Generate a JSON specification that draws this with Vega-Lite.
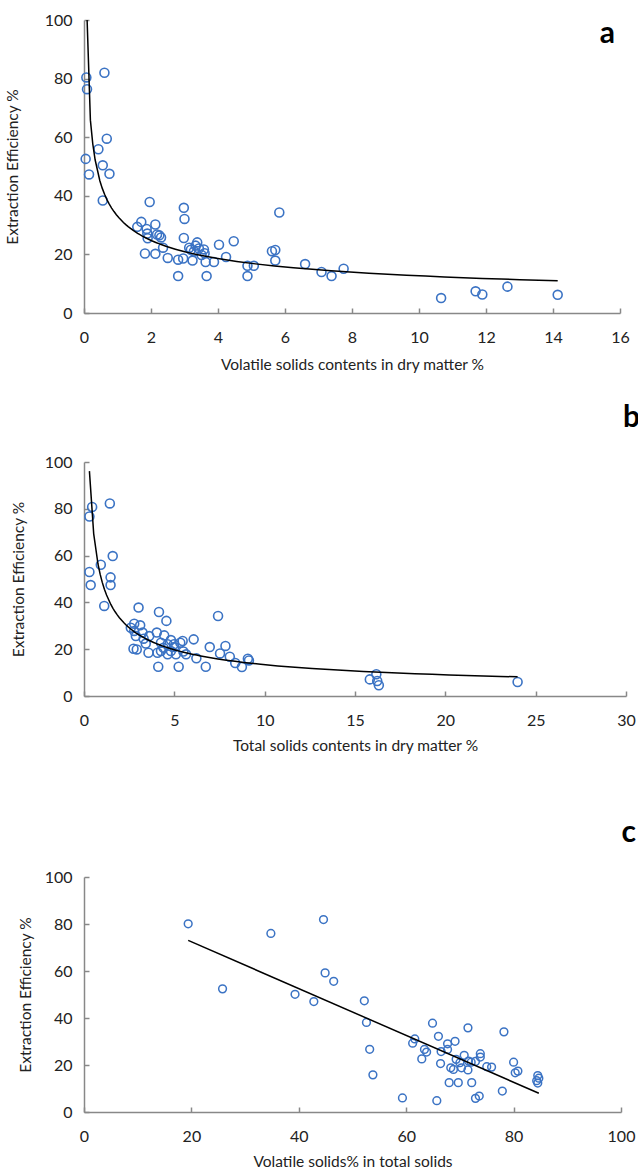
{
  "$schema": "https://vega.github.io/schema/vega-lite/v6.json",
  "padding": {"top": 12, "left": 5, "right": 0, "bottom": 0},
  "background": "white",
  "spacing": 30,
  "config": {
    "view": {"stroke": null},
    "font": "Lato",
    "axis": {
      "grid": false,
      "domainColor": "#888888",
      "domainWidth": 1.5,
      "tickColor": "#888888",
      "tickWidth": 1.5,
      "tickSize": -5,
      "labelFont": "Lato",
      "labelFontSize": 16,
      "labelColor": "#222222",
      "labelPadding": 17,
      "labelFlush": false,
      "titleFont": "Lato",
      "titleFontSize": 15.5,
      "titleFontWeight": "normal",
      "titleColor": "#222222"
    },
    "axisX": {"labelPadding": 21},
    "title": {"font": "Lato", "fontSize": 30, "fontWeight": "bold", "color": "#000000", "anchor": "end", "frame": "group"}
  },
  "vconcat": [
    {
      "width": 536,
      "height": 293,
      "title": {"text": "a", "offset": -37, "dx": -5},
      "data": {"values": [
        {"vs": 0.07, "ee": 80.4}, {"vs": 0.09, "ee": 76.4}, {"vs": 0.61, "ee": 82.0}, {"vs": 0.68, "ee": 59.5},
        {"vs": 0.43, "ee": 55.9}, {"vs": 0.05, "ee": 52.6}, {"vs": 0.56, "ee": 50.4}, {"vs": 0.15, "ee": 47.3},
        {"vs": 0.76, "ee": 47.5}, {"vs": 0.56, "ee": 38.4}, {"vs": 1.96, "ee": 37.9}, {"vs": 2.98, "ee": 35.9},
        {"vs": 3.0, "ee": 32.1}, {"vs": 5.83, "ee": 34.3}, {"vs": 1.71, "ee": 31.1}, {"vs": 1.59, "ee": 29.4},
        {"vs": 2.13, "ee": 30.2}, {"vs": 1.87, "ee": 28.7}, {"vs": 1.89, "ee": 27.1}, {"vs": 2.18, "ee": 26.8},
        {"vs": 2.25, "ee": 26.5}, {"vs": 2.3, "ee": 25.8}, {"vs": 1.9, "ee": 25.5}, {"vs": 2.98, "ee": 25.6},
        {"vs": 2.36, "ee": 22.3}, {"vs": 4.47, "ee": 24.5}, {"vs": 4.03, "ee": 23.3}, {"vs": 3.38, "ee": 24.1},
        {"vs": 3.33, "ee": 23.0}, {"vs": 3.14, "ee": 22.3}, {"vs": 3.19, "ee": 21.6}, {"vs": 3.43, "ee": 22.0},
        {"vs": 3.58, "ee": 21.7}, {"vs": 3.6, "ee": 20.4}, {"vs": 3.51, "ee": 19.8}, {"vs": 3.28, "ee": 21.0},
        {"vs": 1.82, "ee": 20.3}, {"vs": 2.13, "ee": 20.2}, {"vs": 2.5, "ee": 18.8}, {"vs": 2.81, "ee": 18.2},
        {"vs": 2.96, "ee": 18.6}, {"vs": 3.24, "ee": 17.9}, {"vs": 3.63, "ee": 17.4}, {"vs": 3.88, "ee": 17.4},
        {"vs": 4.24, "ee": 19.1}, {"vs": 2.81, "ee": 12.6}, {"vs": 3.66, "ee": 12.6}, {"vs": 4.88, "ee": 16.1},
        {"vs": 5.07, "ee": 16.1}, {"vs": 4.88, "ee": 12.6}, {"vs": 5.61, "ee": 21.1}, {"vs": 5.71, "ee": 21.5},
        {"vs": 5.71, "ee": 17.9}, {"vs": 6.6, "ee": 16.7}, {"vs": 7.09, "ee": 14.0}, {"vs": 7.39, "ee": 12.6},
        {"vs": 7.75, "ee": 15.1}, {"vs": 10.66, "ee": 5.1}, {"vs": 11.69, "ee": 7.4}, {"vs": 11.89, "ee": 6.3},
        {"vs": 12.64, "ee": 9.0}, {"vs": 14.14, "ee": 6.2}
      ]},
      "layer": [
        {
          "mark": {"type": "point", "shape": "circle", "filled": false, "color": "#3B73C4", "strokeWidth": 1.6, "size": 80, "opacity": 1},
          "encoding": {
            "x": {"field": "vs", "type": "quantitative", "scale": {"domain": [0, 16], "nice": false},
                  "axis": {"values": [0, 2, 4, 6, 8, 10, 12, 14, 16], "title": "Volatile solids contents in dry matter %", "titlePadding": 12}},
            "y": {"field": "ee", "type": "quantitative", "scale": {"domain": [0, 100], "nice": false},
                  "axis": {"values": [0, 20, 40, 60, 80, 100], "title": "Extraction Efficiency %", "titlePadding": 24}}
          }
        },
        {
          "transform": [{"regression": "ee", "on": "vs", "method": "pow"}],
          "mark": {"type": "line", "color": "#000000", "strokeWidth": 1.5, "clip": true},
          "encoding": {
            "x": {"field": "vs", "type": "quantitative"},
            "y": {"field": "ee", "type": "quantitative"}
          }
        }
      ]
    },
    {
      "width": 542,
      "height": 234,
      "title": {"text": "b", "offset": 21, "dx": 14},
      "data": {"values": [
        {"ts": 0.45, "ee": 80.8}, {"ts": 0.3, "ee": 76.7}, {"ts": 1.43, "ee": 82.3}, {"ts": 1.59, "ee": 59.8},
        {"ts": 0.93, "ee": 56.1}, {"ts": 0.3, "ee": 53.0}, {"ts": 1.47, "ee": 50.7}, {"ts": 0.37, "ee": 47.4},
        {"ts": 1.47, "ee": 47.4}, {"ts": 1.12, "ee": 38.5}, {"ts": 3.02, "ee": 37.8}, {"ts": 4.15, "ee": 35.9},
        {"ts": 4.56, "ee": 32.1}, {"ts": 7.42, "ee": 34.2}, {"ts": 2.78, "ee": 30.9}, {"ts": 2.59, "ee": 29.2},
        {"ts": 3.11, "ee": 30.2}, {"ts": 2.78, "ee": 27.8}, {"ts": 2.87, "ee": 25.6}, {"ts": 3.24, "ee": 27.1},
        {"ts": 3.61, "ee": 25.6}, {"ts": 4.03, "ee": 27.1}, {"ts": 4.44, "ee": 25.9}, {"ts": 4.81, "ee": 23.9},
        {"ts": 6.07, "ee": 24.2}, {"ts": 5.46, "ee": 23.5}, {"ts": 5.33, "ee": 22.8}, {"ts": 4.98, "ee": 22.1},
        {"ts": 4.63, "ee": 22.1}, {"ts": 4.26, "ee": 22.8}, {"ts": 3.42, "ee": 22.4}, {"ts": 2.74, "ee": 20.2},
        {"ts": 2.92, "ee": 19.9}, {"ts": 6.96, "ee": 20.9}, {"ts": 7.83, "ee": 21.4}, {"ts": 3.57, "ee": 18.5},
        {"ts": 4.07, "ee": 18.5}, {"ts": 4.26, "ee": 19.2}, {"ts": 4.63, "ee": 17.8}, {"ts": 4.81, "ee": 19.2},
        {"ts": 5.09, "ee": 17.8}, {"ts": 5.65, "ee": 17.8}, {"ts": 5.5, "ee": 19.0}, {"ts": 6.22, "ee": 16.1},
        {"ts": 7.53, "ee": 18.2}, {"ts": 8.07, "ee": 16.8}, {"ts": 8.37, "ee": 14.1}, {"ts": 9.07, "ee": 15.9},
        {"ts": 9.13, "ee": 15.2}, {"ts": 8.74, "ee": 12.4}, {"ts": 4.11, "ee": 12.5}, {"ts": 5.24, "ee": 12.5},
        {"ts": 6.74, "ee": 12.5}, {"ts": 4.4, "ee": 20.6}, {"ts": 5.0, "ee": 20.9}, {"ts": 3.3, "ee": 24.5},
        {"ts": 15.82, "ee": 7.1}, {"ts": 16.18, "ee": 9.3}, {"ts": 16.23, "ee": 6.4}, {"ts": 16.32, "ee": 4.6},
        {"ts": 24.0, "ee": 6.0}
      ]},
      "layer": [
        {
          "mark": {"type": "point", "shape": "circle", "filled": false, "color": "#3B73C4", "strokeWidth": 1.6, "size": 80, "opacity": 1},
          "encoding": {
            "x": {"field": "ts", "type": "quantitative", "scale": {"domain": [0, 30], "nice": false},
                  "axis": {"values": [0, 5, 10, 15, 20, 25, 30], "title": ["Total solids contents in dry matter %", "\u00a0"], "titleLineHeight": 34, "titlePadding": 10}},
            "y": {"field": "ee", "type": "quantitative", "scale": {"domain": [0, 100], "nice": false},
                  "axis": {"values": [0, 20, 40, 60, 80, 100], "title": "Extraction Efficiency %", "titlePadding": 18}}
          }
        },
        {
          "transform": [{"regression": "ee", "on": "ts", "method": "pow"}],
          "mark": {"type": "line", "color": "#000000", "strokeWidth": 1.5, "clip": true},
          "encoding": {
            "x": {"field": "ts", "type": "quantitative"},
            "y": {"field": "ee", "type": "quantitative"}
          }
        }
      ]
    },
    {
      "width": 537,
      "height": 235,
      "title": {"text": "c", "offset": 21, "dx": 15},
      "data": {"values": [
        {"vsts": 19.4, "ee": 80.1}, {"vsts": 34.8, "ee": 76.0}, {"vsts": 44.6, "ee": 81.9}, {"vsts": 25.8, "ee": 52.4},
        {"vsts": 44.9, "ee": 59.2}, {"vsts": 46.5, "ee": 55.6}, {"vsts": 39.3, "ee": 50.1}, {"vsts": 42.8, "ee": 47.0},
        {"vsts": 52.2, "ee": 47.3}, {"vsts": 52.6, "ee": 38.1}, {"vsts": 53.2, "ee": 26.7}, {"vsts": 53.8, "ee": 15.8},
        {"vsts": 59.3, "ee": 6.0}, {"vsts": 65.7, "ee": 4.8}, {"vsts": 64.9, "ee": 37.8}, {"vsts": 71.5, "ee": 35.8},
        {"vsts": 78.2, "ee": 34.1}, {"vsts": 66.0, "ee": 32.2}, {"vsts": 61.6, "ee": 31.1}, {"vsts": 61.2, "ee": 29.3},
        {"vsts": 69.1, "ee": 30.1}, {"vsts": 67.7, "ee": 29.0}, {"vsts": 67.7, "ee": 26.6}, {"vsts": 63.4, "ee": 26.6},
        {"vsts": 63.8, "ee": 25.5}, {"vsts": 66.5, "ee": 25.7}, {"vsts": 62.9, "ee": 22.6}, {"vsts": 70.8, "ee": 24.1},
        {"vsts": 73.8, "ee": 24.8}, {"vsts": 73.8, "ee": 23.4}, {"vsts": 69.3, "ee": 22.4}, {"vsts": 71.6, "ee": 21.7},
        {"vsts": 72.1, "ee": 21.2}, {"vsts": 72.9, "ee": 21.5}, {"vsts": 70.0, "ee": 21.0}, {"vsts": 66.4, "ee": 20.6},
        {"vsts": 68.3, "ee": 18.8}, {"vsts": 68.8, "ee": 18.1}, {"vsts": 70.3, "ee": 18.8}, {"vsts": 71.5, "ee": 17.9},
        {"vsts": 75.0, "ee": 19.3}, {"vsts": 75.9, "ee": 19.1}, {"vsts": 80.0, "ee": 21.2}, {"vsts": 80.3, "ee": 16.7},
        {"vsts": 80.8, "ee": 17.4}, {"vsts": 68.0, "ee": 12.5}, {"vsts": 69.7, "ee": 12.5}, {"vsts": 72.2, "ee": 12.5},
        {"vsts": 77.9, "ee": 8.9}, {"vsts": 72.9, "ee": 5.8}, {"vsts": 73.6, "ee": 6.8}, {"vsts": 84.5, "ee": 15.5},
        {"vsts": 84.3, "ee": 13.3}, {"vsts": 84.5, "ee": 12.3}, {"vsts": 84.7, "ee": 14.4}
      ]},
      "layer": [
        {
          "mark": {"type": "point", "shape": "circle", "filled": false, "color": "#3B73C4", "strokeWidth": 1.5, "size": 60, "opacity": 1},
          "encoding": {
            "x": {"field": "vsts", "type": "quantitative", "scale": {"domain": [0, 100], "nice": false},
                  "axis": {"values": [0, 20, 40, 60, 80, 100], "title": "Volatile solids% in total solids", "titlePadding": 10}},
            "y": {"field": "ee", "type": "quantitative", "scale": {"domain": [0, 100], "nice": false},
                  "axis": {"values": [0, 20, 40, 60, 80, 100], "title": "Extraction Efficiency %", "titlePadding": 11}}
          }
        },
        {
          "transform": [{"regression": "ee", "on": "vsts", "method": "linear"}],
          "mark": {"type": "line", "color": "#000000", "strokeWidth": 1.5, "clip": true},
          "encoding": {
            "x": {"field": "vsts", "type": "quantitative"},
            "y": {"field": "ee", "type": "quantitative"}
          }
        }
      ]
    }
  ]
}
